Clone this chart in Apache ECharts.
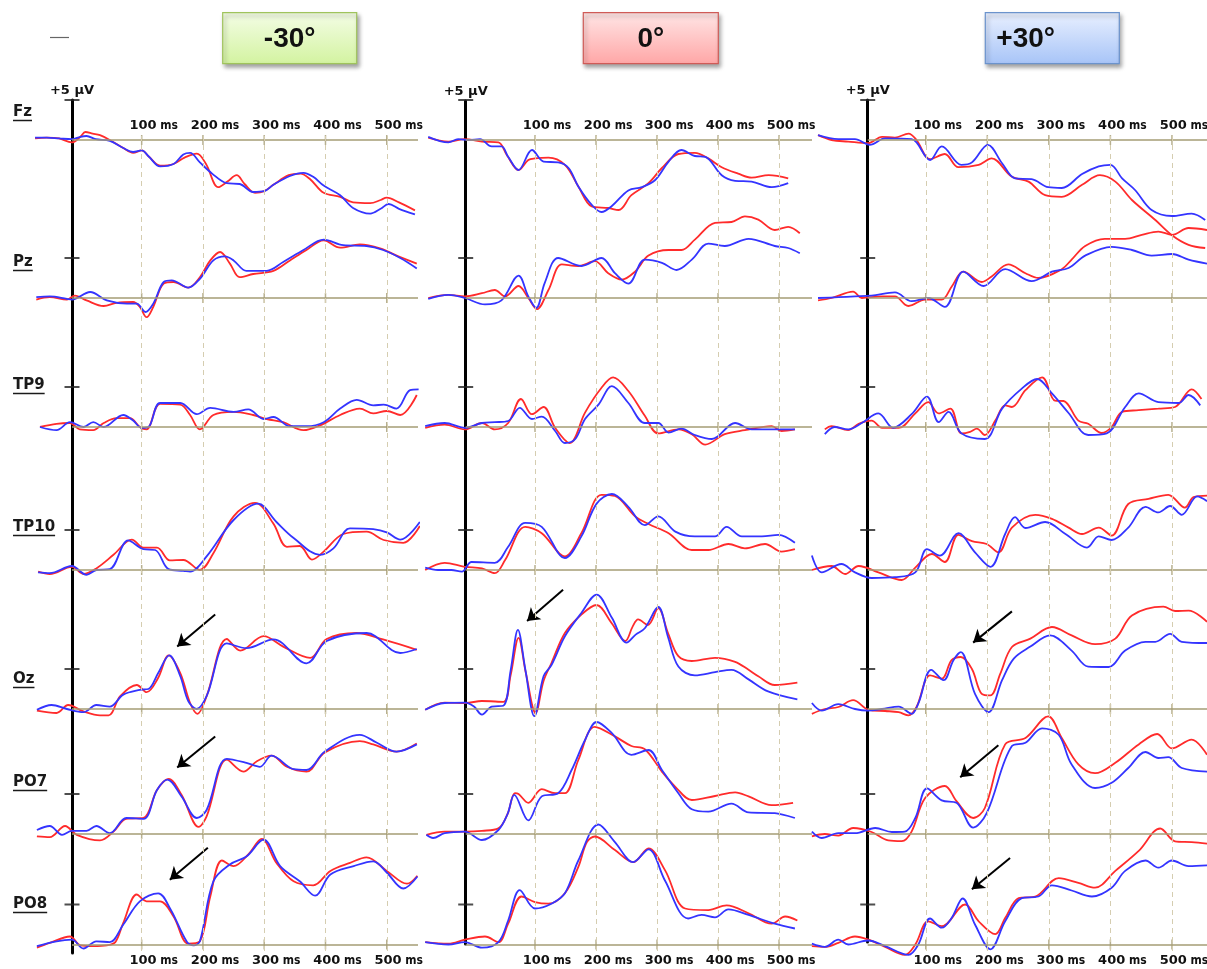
<!DOCTYPE html>
<html>
<head>
<meta charset="utf-8">
<script src="https://cdn.jsdelivr.net/npm/echarts@6/dist/echarts.min.js"></script>
<style>
  html, body { margin: 0; padding: 0; background: #fff; }
  #chart { width: 1207px; height: 969px; }
</style>
</head>
<body>
<div id="chart"></div>
<script>
// ---- labels ----
const conditions = ['-30°', '0°', '+30°'];
const channels = ['Fz', 'Pz', 'TP9', 'TP10', 'Oz', 'PO7', 'PO8'];
const tickMs = [100, 200, 300, 400, 500];
const tickUnit = ' ms';
const scaleLabel = '+5 µV';
const scaleMark = 5; // µV

// ---- grand-average ERPs, [time (ms), amplitude (µV)] ----
// -30°
const fz_m30_red = [[-74,0.2],[-55,0.3],[-35,0.2],[-14,-0.3],[0,0.4],[8,1.0],[20,0.8],[32,0.6],[48,0],[70,-1.0],[86,-1.6],[100,-1.3],[112,-2.1],[130,-3.2],[152,-3.0],[170,-2.2],[190,-1.7],[205,-3.0],[225,-5.9],[240,-5.2],[255,-4.4],[268,-5.5],[285,-6.6],[300,-6.4],[315,-5.6],[340,-4.4],[359,-4.2],[375,-4.9],[397,-6.6],[424,-7.1],[445,-7.8],[473,-7.9],[490,-7.5],[500,-7.2],[520,-7.8],[546,-8.8]];
const fz_m30_blue = [[-74,0.3],[-55,0.3],[-35,0.2],[-14,0.1],[0,0.4],[10,0.5],[25,0.1],[48,-0.1],[70,-1.0],[86,-1.5],[100,-1.3],[112,-2.1],[130,-3.3],[152,-3.0],[168,-1.8],[179,-1.6],[195,-2.8],[215,-4.2],[239,-5.4],[260,-5.5],[282,-6.5],[300,-6.4],[315,-5.6],[342,-4.5],[364,-4.1],[380,-4.6],[397,-5.7],[424,-6.9],[445,-8.5],[473,-9.2],[490,-8.6],[503,-8.0],[520,-8.6],[546,-9.3]];
const pz_m30_red = [[-72,-0.2],[-50,0.1],[-22,-0.2],[-9,0.3],[10,-0.3],[38,-1.0],[59,-0.6],[86,-0.5],[97,-1.1],[108,-2.4],[119,-1.1],[136,1.8],[152,2.0],[176,1.3],[195,2.6],[212,4.7],[228,5.75],[244,4.3],[260,2.6],[282,3.0],[315,3.4],[342,4.7],[369,6.0],[397,7.2],[424,6.3],[456,6.7],[489,6.2],[522,5.1],[549,4.3]];
const pz_m30_blue = [[-72,0.1],[-50,0.2],[-22,-0.1],[-14,-0.2],[16,0.75],[43,-0.3],[76,-0.7],[92,-0.7],[106,-1.75],[119,-0.7],[136,2.0],[149,2.2],[176,1.3],[195,2.4],[217,4.7],[236,5.2],[250,4.7],[271,3.4],[304,3.4],[331,4.5],[364,6.0],[397,7.3],[429,6.6],[467,6.5],[494,6.0],[522,5.0],[549,3.7]];
const tp9_m30_red = [[-66,0],[-39,0.4],[-17,0.5],[-1,-0.3],[21,-0.4],[38,0.5],[59,1.1],[81,1.1],[97,0],[108,-0.3],[130,2.9],[163,2.8],[179,1.5],[195,-0.3],[217,1.5],[250,1.9],[282,1.5],[304,1.0],[331,0.6],[364,-0.4],[391,0.2],[424,1.5],[456,2.3],[478,1.7],[500,2.0],[522,1.5],[549,4.0]];
const tp9_m30_blue = [[-66,0],[-39,-0.4],[-17,0.6],[5,0],[21,0.6],[38,0],[70,1.5],[86,0.8],[100,-0.1],[111,0],[130,3.0],[163,3.0],[190,1.6],[212,2.4],[250,1.9],[274,2.2],[299,1.0],[315,1.25],[342,0.1],[369,0.1],[397,0.6],[424,2.3],[451,3.4],[478,2.7],[495,2.8],[516,2.3],[538,4.6],[552,4.7]];
const tp10_m30_red = [[-69,-0.2],[-50,-0.5],[-14,0.4],[5,-0.5],[26,0.2],[54,1.9],[84,3.8],[103,2.8],[125,2.8],[146,1.2],[168,1.25],[195,0],[217,2.1],[250,6.7],[285,8.4],[315,5.8],[337,2.9],[358,3.0],[378,1.3],[397,2.3],[429,4.5],[467,4.8],[495,3.75],[527,3.4],[554,5.5]];
const tp10_m30_blue = [[-69,-0.3],[-50,-0.4],[-14,0.5],[10,-0.6],[26,0],[48,0.1],[78,3.7],[103,2.6],[122,2.5],[144,0.1],[168,-0.1],[179,-0.2],[206,1.7],[250,6.25],[290,8.3],[320,6.0],[348,4.0],[391,1.9],[413,2.7],[440,5.2],[478,5.1],[500,4.7],[522,3.8],[554,6.0]];
const oz_m30_red = [[-71,-0.2],[-39,-0.5],[-20,0.5],[5,-0.3],[32,-0.8],[46,-0.8],[65,1.6],[92,3.0],[108,2.1],[127,3.9],[144,6.7],[163,4.5],[179,0.75],[191,-0.6],[206,1.6],[239,8.75],[261,7.3],[299,9.1],[331,7.8],[375,6.4],[402,8.75],[451,9.5],[494,8.7],[549,7.4]];
const oz_m30_blue = [[-71,-0.1],[-47,0.5],[-22,0],[5,-0.4],[26,0.5],[48,0.3],[70,1.8],[97,2.4],[111,2.5],[127,4.5],[145,6.7],[163,4.1],[176,1.0],[190,0],[206,1.6],[239,8.2],[271,7.6],[315,8.7],[369,5.7],[402,8.5],[467,9.5],[522,7.0],[549,7.5]];
const po7_m30_red = [[-71,-0.3],[-50,-0.4],[-25,1.0],[-6,-0.1],[32,-0.8],[54,0.3],[75,1.9],[103,2.0],[125,5.5],[144,6.9],[165,4.9],[193,0.9],[206,2.2],[239,9.3],[266,7.8],[288,9.1],[312,9.8],[337,8.4],[369,7.8],[399,10.2],[456,11.6],[478,11.2],[516,10.3],[549,11.3]];
const po7_m30_blue = [[-71,0.5],[-50,1.0],[-30,-0.1],[-14,0.4],[10,0.4],[26,1.0],[48,0.1],[75,2.0],[103,1.9],[125,5.5],[142,6.8],[165,4.7],[190,2.0],[206,3.0],[239,9.4],[271,8.9],[293,8.4],[312,9.8],[348,8.1],[369,8.0],[399,10.3],[456,12.4],[484,11.4],[516,10.3],[549,11.2]];
const po8_m30_red = [[-71,-0.4],[-50,0.2],[-17,1.0],[0,-0.1],[21,-0.2],[43,-0.1],[57,0.3],[70,2.7],[92,6.25],[108,5.4],[130,5.4],[152,3.5],[176,0.1],[195,0.4],[212,6.0],[231,10.5],[250,9.8],[274,11.25],[296,13.2],[320,10.2],[348,7.9],[380,7.4],[408,9.2],[440,10.2],[467,10.9],[500,9.2],[533,7.6],[550,8.6]];
const po8_m30_blue = [[-71,-0.2],[-39,0.4],[-14,0.6],[5,-0.5],[26,0.4],[48,0.3],[70,2.5],[97,5.4],[127,6.4],[147,4.4],[174,0.3],[185,-0.1],[195,0.4],[217,7.9],[244,10.0],[271,11.0],[299,13.1],[326,9.8],[358,7.9],[383,6.1],[408,8.75],[446,9.8],[478,10.4],[500,9.0],[527,7.0],[550,8.5]];

// 0°
const fz_z0_red = [[-75,0.3],[-42,-0.2],[-15,0.1],[13,-0.2],[40,-0.3],[54,-1.9],[73,-3.75],[89,-2.5],[100,-2.3],[122,-2.2],[149,-3.1],[171,-5.8],[193,-8.3],[220,-8.5],[237,-8.75],[258,-6.9],[286,-5.4],[308,-3.5],[335,-1.75],[362,-1.6],[384,-2.3],[406,-3.4],[433,-4.2],[455,-4.7],[483,-4.4],[515,-4.8]];
const fz_z0_blue = [[-75,0.4],[-42,-0.3],[-26,0.1],[-9,0],[10,0.1],[29,-0.8],[45,-0.8],[56,-2.1],[73,-3.75],[95,-1.25],[114,-2.7],[138,-2.8],[155,-3.5],[171,-5.8],[193,-8.1],[209,-9.0],[226,-8.25],[253,-6.3],[275,-5.9],[297,-5.0],[319,-2.7],[340,-1.25],[362,-2.0],[379,-2.1],[406,-4.4],[428,-5.1],[455,-5.2],[488,-5.9],[515,-5.4]];
const pz_z0_red = [[-75,0],[-42,0.4],[-15,0.2],[13,0.6],[34,1.0],[51,0.2],[73,1.5],[89,0],[103,-1.4],[122,1.0],[144,4.2],[171,4.0],[198,4.6],[220,3.1],[242,2.3],[264,3.3],[286,5.3],[319,6.0],[340,6.0],[362,7.3],[395,9.4],[422,9.5],[444,10.2],[466,9.8],[493,8.5],[515,8.9],[534,8.1]];
const pz_z0_blue = [[-75,-0.1],[-42,0.4],[-15,0],[18,-0.8],[45,-0.3],[73,2.8],[89,0.2],[102,-1.25],[116,1.9],[138,5.0],[176,4.0],[209,5.0],[231,3.1],[253,1.8],[280,4.8],[308,4.4],[332,3.5],[357,4.8],[384,6.8],[411,6.5],[450,7.4],[493,6.5],[515,6.25],[534,5.6]];
const tp9_z0_red = [[-80,-0.1],[-48,0.3],[-15,-0.3],[13,0.5],[34,-0.3],[56,0.5],[77,3.5],[95,1.6],[114,2.5],[133,-0.1],[157,-2.0],[182,1.8],[209,4.9],[228,6.2],[253,4.5],[280,1.4],[302,-0.8],[335,-0.3],[357,-0.9],[379,-2.2],[411,-0.9],[444,-0.4],[488,0.1],[504,-0.5],[526,-0.3]];
const tp9_z0_blue = [[-80,0.1],[-48,0.5],[-15,-0.1],[13,0.5],[34,0.6],[56,0.75],[75,2.4],[95,1.0],[111,1.3],[133,-0.5],[149,-2.0],[166,-1.5],[182,1.0],[204,2.8],[226,5.1],[253,3.0],[280,0.5],[302,0.5],[319,-0.7],[340,-0.2],[362,-1.0],[390,-1.5],[428,0.5],[455,-0.3],[493,-0.3],[526,-0.3]];
const tp10_z0_red = [[-80,0],[-48,0.9],[-15,0.4],[13,0.2],[34,-0.4],[51,1.25],[84,5.4],[111,4.6],[149,1.7],[176,4.6],[209,9.4],[231,9.25],[264,6.7],[286,5.75],[319,4.6],[357,2.5],[384,2.5],[417,3.25],[444,2.7],[477,3.25],[504,2.3],[526,2.6]];
const tp10_z0_blue = [[-80,0.3],[-59,0],[-37,0],[-20,-0.2],[-4,1.0],[34,0.9],[56,2.9],[84,5.9],[111,5.4],[149,1.5],[176,4.2],[201,8.3],[226,9.5],[253,7.9],[280,5.6],[302,6.7],[330,4.8],[362,4.2],[395,4.2],[414,5.4],[439,4.2],[472,4.2],[499,4.4],[526,3.4]];
const oz_z0_red = [[-80,-0.1],[-48,0.8],[-14,0.75],[13,1.0],[48,0.9],[60,4.2],[73,8.9],[85,4.5],[101,-0.5],[114,3.5],[127,5.75],[149,9.5],[176,11.8],[201,13.0],[225,10.8],[248,8.5],[260,10.3],[269,11.2],[285,10.5],[302,12.6],[318,9.5],[335,6.6],[357,6.0],[395,6.4],[428,5.9],[450,4.9],[466,4.1],[493,3.0],[530,3.3]];
const oz_z0_blue = [[-80,-0.1],[-48,0.75],[-14,0.8],[0,0.3],[13,-0.7],[29,0.3],[48,0.4],[60,4.8],[72,9.9],[84,5.0],[99,-0.9],[114,4.1],[127,5.5],[149,9.1],[176,12.0],[201,14.3],[226,11.4],[250,8.3],[265,9.3],[280,10.1],[302,12.75],[318,9.0],[335,5.3],[362,4.2],[395,4.6],[422,4.9],[450,3.7],[482,2.2],[530,1.2]];
const po7_z0_red = [[-78,-0.1],[-48,0.3],[-15,0.3],[13,0.4],[40,0.7],[55,2.5],[67,5.1],[73,5.0],[89,3.9],[111,5.6],[133,5.1],[149,5.1],[171,9.25],[198,13.4],[231,12.2],[258,11.0],[280,10.6],[308,7.8],[330,5.9],[357,4.25],[395,4.75],[428,5.2],[450,4.7],[488,3.6],[523,3.9]];
const po7_z0_blue = [[-78,-0.1],[-67,-0.5],[-48,0.1],[-15,0.3],[13,-0.75],[40,0.5],[55,2.5],[66,4.9],[89,1.7],[111,4.7],[138,5.1],[160,8.0],[182,11.75],[201,14.0],[226,12.6],[258,9.9],[286,10.5],[308,8.0],[335,5.1],[357,3.1],[384,2.8],[422,3.8],[450,2.7],[493,2.6],[526,2.0]];
const po8_z0_red = [[-80,0.3],[-42,0.1],[-15,0.6],[18,1.0],[40,0.3],[56,2.6],[78,6.0],[100,5.3],[122,5.1],[149,6.4],[171,9.7],[185,12.8],[198,13.5],[231,11.8],[261,10.3],[286,12.0],[313,9.3],[346,4.5],[384,4.3],[414,4.9],[450,3.9],[488,2.6],[510,3.5],[530,3.0]];
const po8_z0_blue = [[-80,0.3],[-42,0],[-15,0.3],[13,-0.4],[40,0.3],[56,3.0],[75,6.8],[100,4.5],[127,5.1],[149,6.4],[171,10.5],[204,15.0],[231,12.8],[261,10.3],[286,11.9],[313,8.0],[351,3.25],[373,3.7],[395,3.4],[417,4.4],[450,3.7],[493,2.6],[526,2.0]];

// +30°
const fz_p30_red = [[-75,0.6],[-53,0],[-26,-0.2],[6,-0.4],[29,0.4],[50,0.3],[72,0.8],[85,0],[107,-2.4],[131,-1.75],[153,-3.4],[186,-3.1],[207,-2.3],[240,-4.6],[267,-5.2],[294,-6.9],[321,-7.1],[354,-5.6],[383,-4.4],[408,-5.2],[435,-7.5],[473,-10.0],[500,-11.9],[527,-13.1],[554,-13.5]];
const fz_p30_blue = [[-75,0.6],[-42,0.1],[-15,0.1],[9,-0.6],[34,0.2],[77,0.1],[107,-2.5],[126,-0.8],[158,-3.1],[175,-2.8],[201,-0.6],[224,-2.9],[245,-4.8],[272,-4.9],[299,-5.9],[321,-6.0],[354,-4.25],[381,-3.3],[400,-3.1],[419,-4.8],[440,-6.25],[467,-8.75],[500,-9.5],[532,-9.2],[554,-10.0]];
const pz_p30_red = [[-75,-0.3],[-53,0],[-18,0.8],[-4,0],[29,0.2],[50,0.2],[66,-0.8],[72,-1.0],[99,-0.2],[126,-0.2],[142,1.4],[161,3.3],[191,2.0],[207,2.7],[234,4.2],[262,3.1],[283,2.5],[321,3.6],[337,4.8],[359,6.5],[391,7.4],[424,7.4],[451,7.9],[478,8.3],[500,7.9],[527,8.75],[557,8.5]];
const pz_p30_blue = [[-75,0],[-42,0.1],[-15,0.2],[12,0.3],[50,0.7],[77,-0.4],[104,0],[131,-1.1],[161,3.3],[194,1.5],[229,3.6],[272,2.1],[305,3.3],[332,3.75],[359,5.3],[402,6.4],[435,6.0],[467,5.3],[500,5.5],[527,4.8],[557,4.3]];
const tp9_p30_red = [[-64,-0.3],[-53,0.1],[-26,-0.4],[-9,0.4],[12,0.8],[29,-0.1],[56,-0.1],[83,1.7],[104,3.1],[121,1.7],[140,2.3],[158,-0.8],[172,-0.6],[183,-0.2],[196,-1.0],[213,0.8],[229,2.7],[240,2.5],[262,4.6],[289,6.2],[310,3.3],[324,3.25],[348,0.8],[364,0.4],[386,-0.75],[402,0],[419,1.9],[446,2.1],[478,2.3],[505,2.5],[532,4.7],[548,3.5]];
const tp9_p30_blue = [[-64,-0.9],[-48,0],[-26,-0.3],[-4,0.5],[23,1.7],[47,-0.1],[77,1.6],[102,3.8],[121,0.6],[137,1.9],[158,-0.8],[196,-1.5],[224,2.3],[256,4.8],[281,6.0],[305,4.2],[332,1.75],[364,-1.0],[394,-0.8],[424,2.5],[446,4.2],[478,3.1],[511,3.0],[527,4.0],[546,2.7]];
const tp10_p30_red = [[-85,0],[-53,0.5],[-31,-0.5],[-9,0.5],[23,-0.3],[61,-1.25],[83,0.3],[110,2.0],[131,1.0],[153,4.4],[175,3.6],[199,3.25],[218,2.2],[240,5.3],[278,6.9],[305,6.4],[332,5.3],[354,4.5],[381,5.3],[402,4.3],[429,8.25],[462,8.9],[494,9.4],[521,7.8],[535,9.1],[557,9.3]];
const tp10_p30_blue = [[-85,1.8],[-69,-0.3],[-37,0.75],[-15,-0.3],[12,-1.0],[50,-0.9],[83,-0.3],[102,2.6],[123,1.8],[153,4.6],[180,2.2],[205,0.4],[229,4.5],[245,6.6],[262,5.25],[294,6.0],[327,4.5],[362,2.8],[381,4.2],[402,3.75],[429,5.3],[457,7.9],[478,7.2],[497,8.0],[516,6.9],[541,9.2],[557,8.6]];
const oz_p30_red = [[-85,-0.6],[-64,0],[-42,0.25],[-18,1.1],[7,-0.1],[34,-0.25],[56,-0.4],[72,-0.8],[85,0.25],[107,4.2],[126,3.8],[142,6.1],[157,6.5],[175,5.0],[191,1.9],[205,1.7],[221,4.4],[240,7.75],[270,8.8],[305,10.25],[337,9.2],[375,8.1],[408,8.8],[435,11.7],[486,12.8],[505,12.25],[527,12.3],[557,10.9]];
const oz_p30_blue = [[-85,0.75],[-69,-0.2],[-42,0.6],[-15,0],[6,-0.2],[29,0],[56,0.3],[77,-0.6],[88,0.7],[109,4.9],[129,3.6],[145,6.1],[157,7.1],[180,1.9],[202,-0.4],[224,3.6],[243,6.3],[270,7.8],[302,9.2],[337,7.3],[364,5.3],[397,5.25],[424,7.3],[457,8.4],[473,8.4],[497,9.4],[516,8.4],[557,8.25]];
const po7_p30_red = [[-85,-0.3],[-64,0],[-42,-0.2],[-18,0.75],[12,0.25],[39,-0.8],[61,-0.9],[77,0.3],[99,4.5],[131,6.0],[150,4.1],[177,2.0],[196,3.25],[229,11.2],[262,12.0],[299,14.7],[321,12.0],[348,8.7],[375,7.6],[408,8.9],[446,11.2],[476,12.5],[500,10.7],[532,11.8],[557,9.9]];
const po7_p30_blue = [[-85,0.3],[-69,-0.5],[-42,0.1],[-15,0.1],[18,0.75],[45,0.25],[66,0.3],[83,2.0],[102,5.7],[126,4.2],[150,3.9],[177,0.8],[199,2.6],[240,11.0],[262,11.4],[289,13.2],[316,12.4],[337,8.7],[375,5.75],[402,6.4],[429,8.25],[457,10.25],[478,9.5],[494,9.6],[516,8.25],[557,7.8]];
const po8_p30_red = [[-85,-0.2],[-64,-0.3],[-42,0.2],[-15,1.0],[7,0.6],[34,-0.3],[66,-1.3],[83,0],[104,2.9],[126,2.3],[164,5.0],[186,2.9],[213,1.3],[229,3.3],[251,5.8],[278,6.0],[316,8.3],[348,7.7],[375,7.1],[408,9.2],[446,11.7],[481,14.5],[505,12.9],[532,12.8],[557,12.6]];
const po8_p30_blue = [[-85,0.1],[-64,-0.3],[-42,0.6],[-26,0],[6,0.5],[34,-0.2],[72,-1.3],[88,0],[107,3.25],[126,2.1],[142,3.3],[160,5.75],[180,2.5],[205,-0.6],[229,2.9],[256,5.8],[283,6.0],[305,7.4],[337,6.75],[370,6.0],[402,7.1],[424,9.2],[457,10.5],[478,9.6],[500,10.5],[527,9.8],[557,9.9]];

// column -> channel -> [red, blue]
const waves = [
  [[fz_m30_red, fz_m30_blue], [pz_m30_red, pz_m30_blue], [tp9_m30_red, tp9_m30_blue], [tp10_m30_red, tp10_m30_blue], [oz_m30_red, oz_m30_blue], [po7_m30_red, po7_m30_blue], [po8_m30_red, po8_m30_blue]],
  [[fz_z0_red, fz_z0_blue], [pz_z0_red, pz_z0_blue], [tp9_z0_red, tp9_z0_blue], [tp10_z0_red, tp10_z0_blue], [oz_z0_red, oz_z0_blue], [po7_z0_red, po7_z0_blue], [po8_z0_red, po8_z0_blue]],
  [[fz_p30_red, fz_p30_blue], [pz_p30_red, pz_p30_blue], [tp9_p30_red, tp9_p30_blue], [tp10_p30_red, tp10_p30_blue], [oz_p30_red, oz_p30_blue], [po7_p30_red, po7_p30_blue], [po8_p30_red, po8_p30_blue]]
];

// arrows pointing at the P1 / N1 complex, in (ms, µV) of the panel
const arrowNotes = [
  { col: 0, row: 4, from: [220, 11.8], to: [158, 7.8] },
  { col: 0, row: 5, from: [220, 12.2], to: [158, 8.3] },
  { col: 0, row: 6, from: [208, 12.1], to: [146, 8.1] },
  { col: 1, row: 4, from: [146, 14.9], to: [87, 11.0] },
  { col: 2, row: 4, from: [240, 12.2], to: [177, 8.3] },
  { col: 2, row: 5, from: [218, 11.1], to: [156, 7.1] },
  { col: 2, row: 6, from: [237, 10.8], to: [175, 6.9] }
];

// ---- layout ----
// zeroX: pixel column of 0 ms; pxPerMs: horizontal scale; tOnset: where the black axis is drawn
const colLayout = [
  { zeroX: 80.4,  pxPerMs: 0.6127, tLeft: -80, tRight: 551, tOnset: -13.7, lineTop: 100, lineBottom: 953 },
  { zeroX: 474.0, pxPerMs: 0.6101, tLeft: -85, tRight: 554, tOnset: -13.6, lineTop: 101, lineBottom: 944 },
  { zeroX: 864.2, pxPerMs: 0.6155, tLeft: -90, tRight: 557, tOnset: 5.7,   lineTop: 100, lineBottom: 942 }
];
const rowBase = [140, 298, 427, 570, 709, 834, 944.5]; // baseline pixel row of each channel
const PX_PER_UV = 8;
const Y_MIN = -16, Y_MAX = 18;
const labelGridTop = 134, labelGridBottom = 951;
const chanLabelY = [112, 262, 385, 527, 679, 782, 904];
const headerBoxes = [
  { x: 222.7, y: 12.7, w: 134, h: 51, top: '#f4fde6', bottom: '#d3f3a0', stroke: '#9fc35c', align: 'center' },
  { x: 583.3, y: 12.7, w: 135, h: 51, top: '#ffe6e6', bottom: '#ffa6a6', stroke: '#cf5b57', align: 'center' },
  { x: 985.3, y: 12.7, w: 134, h: 51, top: '#e9f0ff', bottom: '#a7c4f7', stroke: '#6b93cc', align: 'left' }
];

const COLORS = { red: '#ff2b2b', blue: '#3434ff', axis: '#a59c74', grid: '#d5cdb0', ink: '#111' };

const grid = [], xAxis = [], yAxis = [], series = [];

colLayout.forEach((col, c) => {
  const left = col.zeroX + col.tLeft * col.pxPerMs;
  const width = (col.tRight - col.tLeft) * col.pxPerMs;
  const onsetX = col.zeroX + col.tOnset * col.pxPerMs;

  // one panel per channel, baseline at 0 µV
  rowBase.forEach((base, r) => {
    const gi = grid.length;
    grid.push({ left: left, width: width, top: base - Y_MAX * PX_PER_UV, height: (Y_MAX - Y_MIN) * PX_PER_UV, outerBoundsMode: 'none', containLabel: false });
    const xi = xAxis.length;
    xAxis.push({ type: 'value', gridIndex: gi, min: col.tLeft, max: col.tRight, show: false });
    const yi = yAxis.length;
    yAxis.push({ type: 'value', gridIndex: gi, min: Y_MIN, max: Y_MAX, show: false });

    const [red, blue] = waves[c][r];
    series.push({
      type: 'line', xAxisIndex: xi, yAxisIndex: yi, data: red, showSymbol: false, smooth: 0.35,
      clip: false, silent: true, z: 3, lineStyle: { color: COLORS.red, width: 1.8 }
    });
    const blueSeries = {
      type: 'line', xAxisIndex: xi, yAxisIndex: yi, data: blue, showSymbol: false, smooth: 0.35,
      clip: false, silent: true, z: 4, lineStyle: { color: COLORS.blue, width: 1.8 }
    };
    const notes = arrowNotes.filter(a => a.col === c && a.row === r);
    if (notes.length) {
      blueSeries.markLine = {
        silent: true, animation: false, symbol: ['none', 'arrow'], symbolSize: 12,
        label: { show: false }, lineStyle: { color: '#000', width: 2, type: 'solid' },
        emphasis: { disabled: true },
        data: notes.map(a => [{ coord: a.from }, { coord: a.to }])
      };
    }
    series.push(blueSeries);

    // 0 µV baseline from stimulus onset, with marks every 100 ms
    series.push({
      type: 'scatter', xAxisIndex: xi, yAxisIndex: yi, silent: true, z: 2,
      data: tickMs.map(t => [t, 0]), symbol: 'rect', symbolSize: [1.5, 10],
      itemStyle: { color: COLORS.axis },
      markLine: {
        silent: true, animation: false, symbol: 'none', label: { show: false },
        lineStyle: { color: COLORS.axis, width: 1.5, type: 'solid' },
        emphasis: { disabled: true },
        data: [[{ coord: [col.tOnset, 0] }, { coord: [col.tRight, 0] }]]
      }
    });
    // +5 µV calibration mark on the onset axis
    series.push({
      type: 'scatter', xAxisIndex: xi, yAxisIndex: yi, silent: true, z: 6,
      data: [[col.tOnset, scaleMark]], symbol: 'rect', symbolSize: [15, 2],
      itemStyle: { color: '#222' }
    });
  });

  // time labels (top and bottom) and dashed 100 ms grid lines
  const lg = grid.length;
  grid.push({ left: left, width: width, top: labelGridTop, height: labelGridBottom - labelGridTop, outerBoundsMode: 'none', containLabel: false });
  const tickLabel = {
    customValues: tickMs,
    formatter: v => `{pad|}{num|${v}}{unit|${tickUnit}}`,
    rich: {
      pad: { width: 24 },
      num: { fontFamily: '"DejaVu Sans", sans-serif', fontWeight: 'bold', fontSize: 13, color: COLORS.ink },
      unit: { fontFamily: '"DejaVu Sans Condensed", "Liberation Sans Narrow", "DejaVu Sans", sans-serif', fontWeight: 'bold', fontSize: 12, color: COLORS.ink }
    }
  };
  const xTop = xAxis.length;
  xAxis.push({
    type: 'value', gridIndex: lg, position: 'top', min: col.tLeft, max: col.tRight,
    axisLine: { show: false }, axisTick: { show: false }, splitLine: { show: false },
    axisLabel: Object.assign({ margin: 2 }, tickLabel)
  });
  xAxis.push({
    type: 'value', gridIndex: lg, position: 'bottom', min: col.tLeft, max: col.tRight,
    axisLine: { show: false }, axisTick: { show: false }, splitLine: { show: false },
    axisLabel: Object.assign({ margin: 3 }, tickLabel)
  });
  const yl = yAxis.length;
  yAxis.push({ type: 'value', gridIndex: lg, min: 0, max: 1, show: false });
  series.push({
    type: 'scatter', xAxisIndex: xTop, yAxisIndex: yl, silent: true, data: [[col.tOnset, 0]], symbolSize: 0,
    markLine: {
      silent: true, animation: false, symbol: 'none', label: { show: false },
      lineStyle: { color: COLORS.grid, type: [5, 4], width: 1 },
      emphasis: { disabled: true },
      data: tickMs.map(t => ({ xAxis: t }))
    }
  });

  // stimulus-onset axis with the voltage scale label
  const bg = grid.length;
  grid.push({ left: onsetX, width: 10, top: col.lineTop, height: col.lineBottom - col.lineTop, outerBoundsMode: 'none', containLabel: false });
  xAxis.push({ type: 'value', gridIndex: bg, min: 0, max: 1, show: false });
  yAxis.push({
    type: 'value', gridIndex: bg, min: 0, max: 1,
    axisLine: { show: true, onZero: false, lineStyle: { color: '#000', width: 3 } },
    axisTick: { show: false }, axisLabel: { show: false }, splitLine: { show: false },
    name: scaleLabel, nameLocation: 'end', nameGap: 3,
    nameTextStyle: { fontFamily: '"DejaVu Sans", sans-serif', fontWeight: 'bold', fontSize: 13, color: COLORS.ink, align: 'center' }
  });
});

// ---- headers, channel names, decorations ----
const measure = document.createElement('canvas').getContext('2d');
const chanFont = 'bold 15px "DejaVu Sans", sans-serif';
measure.font = chanFont;

const graphic = [];
conditions.forEach((label, c) => {
  const h = headerBoxes[c];
  graphic.push({
    type: 'group', x: h.x, y: h.y, silent: true,
    children: [
      {
        type: 'rect', shape: { x: 0, y: 0, width: h.w, height: h.h },
        style: {
          fill: new echarts.graphic.LinearGradient(0, 0, 0, 1, [{ offset: 0, color: h.top }, { offset: 1, color: h.bottom }]),
          stroke: h.stroke, lineWidth: 1.2,
          shadowBlur: 4, shadowOffsetX: 2, shadowOffsetY: 3, shadowColor: 'rgba(0,0,0,0.35)'
        }
      },
      {
        type: 'text', x: h.align === 'center' ? h.w / 2 : 11, y: h.h / 2 + 1,
        style: { text: label, font: 'bold 28px "Liberation Sans", Arial, sans-serif', fill: COLORS.ink, align: h.align, verticalAlign: 'middle' }
      }
    ]
  });
});

channels.forEach((name, r) => {
  const y = chanLabelY[r];
  const w = measure.measureText(name).width;
  graphic.push({ type: 'text', x: 13, y: y, silent: true, style: { text: name, font: chanFont, fill: '#1a1a1a', verticalAlign: 'middle' } });
  graphic.push({ type: 'line', silent: true, shape: { x1: 13, y1: y + 8.5, x2: 13 + w, y2: y + 8.5 }, style: { stroke: '#1a1a1a', lineWidth: 1.5 } });
});

graphic.push({ type: 'line', silent: true, shape: { x1: 50, y1: 37.5, x2: 69, y2: 37.5 }, style: { stroke: '#666', lineWidth: 1.2 } });

const chart = echarts.init(document.getElementById('chart'), null, { renderer: 'canvas' });
chart.setOption({
  backgroundColor: '#fff',
  animation: false,
  grid: grid,
  xAxis: xAxis,
  yAxis: yAxis,
  series: series,
  graphic: graphic
});
</script>
</body>
</html>
